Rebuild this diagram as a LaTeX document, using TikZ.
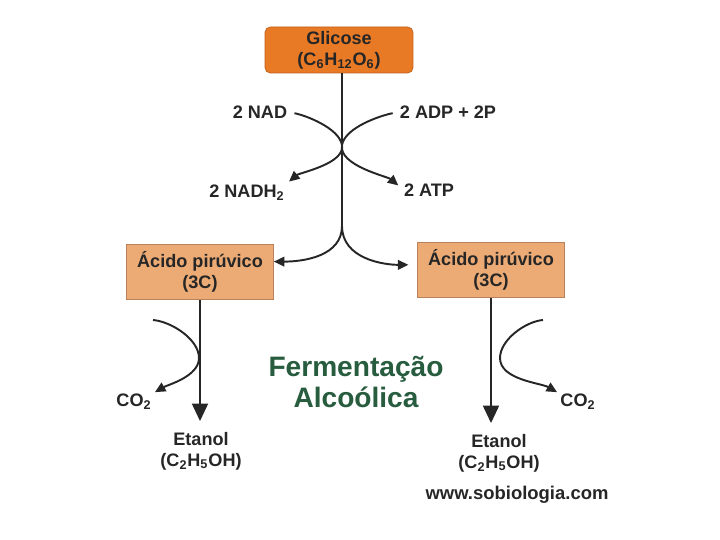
\documentclass[tikz,border=0pt]{standalone}
\usepackage{fontspec}
\setmainfont{Liberation Sans}
\usetikzlibrary{arrows.meta}
\definecolor{laranja}{RGB}{232,122,38}
\definecolor{laranjaborda}{RGB}{190,95,25}
\definecolor{pessego}{RGB}{236,170,116}
\definecolor{pessegoborda}{RGB}{185,130,90}
\definecolor{verdetitulo}{RGB}{40,92,62}
\begin{document}
\begin{tikzpicture}[x=0.02cm,y=-0.02cm,
  lbl/.style={font=\bfseries\fontsize{10.3}{12}\selectfont,text=black!85,align=center,inner sep=0pt},
  glicbox/.style={lbl,draw=laranjaborda,fill=laranja,rounded corners=3pt,minimum width=2.96cm,minimum height=0.92cm},
  acidobox/.style={lbl,draw=pessegoborda,fill=pessego,minimum width=2.94cm,minimum height=1.1cm},
  linha/.style={line width=1.5pt,black!85},
  seta/.style={line width=1.5pt,black!85,-{Triangle[length=10pt,width=9pt]}},
  curva/.style={line width=1.1pt,black!85,-{Triangle[length=6pt,width=5.5pt]}}]
  \useasboundingbox (0,0) rectangle (720,540);
  \node[glicbox] (glicose) at (339,50) {Glicose\\(C\textsubscript{6}H\textsubscript{12}O\textsubscript{6})};
  \node[acidobox] (acidoE) at (200,272) {Ácido pirúvico\\(3C)};
  \node[acidobox] (acidoD) at (491,270) {Ácido pirúvico\\(3C)};
  \node[lbl] (nad) at (260,112) {2 NAD};
  \node[lbl] (adp) at (448,112) {2 ADP + 2P};
  \node[lbl] (nadh) at (247,193) {2 NADH\textsubscript{2}};
  \node[lbl] (atp) at (429,190) {2 ATP};
  \node[lbl] (etanolE) at (201,451) {Etanol\\(C\textsubscript{2}H\textsubscript{5}OH)};
  \node[lbl] (etanolD) at (499,453) {Etanol\\(C\textsubscript{2}H\textsubscript{5}OH)};
  \node[lbl] (co2E) at (134,402) {CO\textsubscript{2}};
  \node[lbl] (co2D) at (578,402) {CO\textsubscript{2}};
  \node[lbl,font=\bfseries\fontsize{16}{18}\selectfont,text=verdetitulo] (titulo) at (356,382) {Fermentação\\Alcoólica};
  \node[lbl,font=\bfseries\fontsize{10.5}{12}\selectfont] (site) at (517,495) {www.sobiologia.com};
  \coordinate (cruz) at (342,145);
  \coordinate (ramo) at (342,226);
  \coordinate (co2Ei) at (153,320);
  \coordinate (co2Et) at (199,358);
  \coordinate (co2Di) at (543,320);
  \coordinate (co2Dt) at (500,358);
  % glicolise
  \draw[linha] (ramo |- glicose.south) -- (ramo);
  \draw[curva] (ramo) to[out=-90,in=0] (acidoE.8);
  \draw[curva,shorten >=5pt] (ramo) to[out=-90,in=180] (acidoD.176);
  \draw[curva,shorten <=4pt,shorten >=3pt] (nad.east) to[out=-10,in=100,looseness=0.7] (cruz) to[out=-80,in=40,looseness=0.7] (nadh.north east);
  \draw[curva,shorten <=4pt,shorten >=4pt] (adp.west) to[out=190,in=80,looseness=0.7] (cruz) to[out=-100,in=140,looseness=0.7] (atp.west);
  % fermentacao
  \draw[seta,shorten >=6pt] (acidoE.south) -- (acidoE.south |- etanolE.north);
  \draw[seta,shorten >=6pt] (acidoD.south) -- (acidoD.south |- etanolD.north);
  \draw[curva,shorten >=2pt] (co2Ei) to[out=-5,in=90,looseness=0.8] (co2Et) to[out=-90,in=30,looseness=0.8] (co2E.north east);
  \draw[curva,shorten >=2pt] (co2Di) to[out=185,in=90,looseness=0.8] (co2Dt) to[out=-90,in=150,looseness=0.8] (co2D.north west);
\end{tikzpicture}
\end{document}
